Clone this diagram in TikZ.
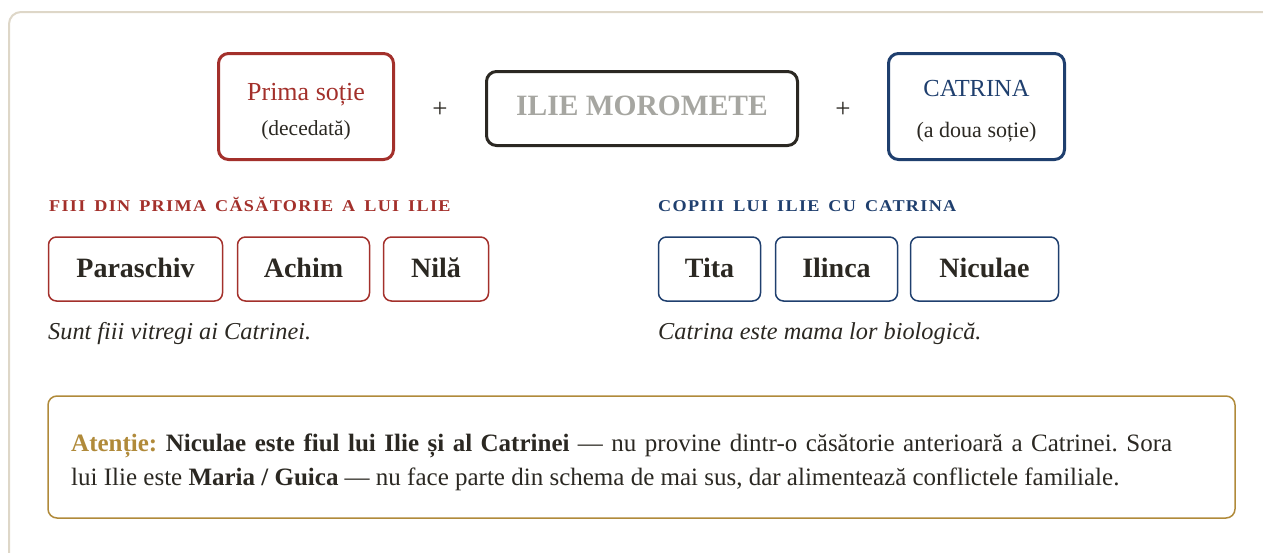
\documentclass[tikz,border=0pt]{standalone}
\usepackage{fontspec}
\setmainfont{Liberation Serif}
\newfontfamily\hdrfont{Liberation Serif}[LetterSpace=8, FakeStretch=1.1]
\definecolor{rd}{HTML}{A3302B}
\definecolor{bl}{HTML}{1F3F6E}
\definecolor{gd}{HTML}{B08A3A}
\definecolor{tx}{HTML}{2B2822}
\definecolor{gy}{HTML}{A6A6A1}
\definecolor{fr}{HTML}{DED7C8}
\newcommand\wsp{\hspace{9pt}}
\frenchspacing
\begin{document}
\begin{tikzpicture}[x=1pt,y=-1pt,
  bigbox/.style={draw, line width=3pt, rounded corners=10pt, inner sep=0pt},
  kidbox/.style={draw, line width=1.5pt, rounded corners=8pt, inner sep=0pt, minimum height=64pt},
  lbl/.style={inner sep=0pt, anchor=base, text=tx},
  hdr/.style={inner sep=0pt, anchor=base west, font=\hdrfont\fontsize{16.5}{19}\selectfont\bfseries},
  kid/.style={inner sep=0pt, anchor=base, text=tx, font=\fontsize{28}{32}\selectfont\bfseries},
  note/.style={inner sep=0pt, anchor=base west, text=tx, font=\fontsize{24.3}{28}\selectfont\itshape},
  body/.style={inner sep=0pt, anchor=base west, text=tx, font=\fontsize{25}{29}\selectfont\frenchspacing}]
\useasboundingbox (0,0) rectangle (1263,552);
% outer frame
\begin{scope}
\clip (0,0) rectangle (1263,552);
\draw[fr, line width=2pt, rounded corners=12pt] (9,12) rectangle (1300,600);
\end{scope}
% top row
\node[bigbox, draw=rd, minimum width=175pt, minimum height=106pt] (prima) at (306,106.5) {};
\node[lbl, text=rd, font=\fontsize{26}{30}\selectfont] (primaT) at (306,100) {Prima soție};
\node[lbl, font=\fontsize{21.5}{26}\selectfont] (primaS) at (306,135.5) {(decedată)};
\node[lbl, font=\fontsize{27}{30}\selectfont] (plus1) at (440,117) {+};
\node[bigbox, draw=tx, minimum width=311pt, minimum height=74pt] (ilie) at (642,108.5) {};
\node[lbl, text=gy, font=\fontsize{29.5}{33}\selectfont\bfseries] (ilieT) at (642,115) {ILIE MOROMETE};
\node[lbl, font=\fontsize{27}{30}\selectfont] (plus2) at (843,117) {+};
\node[bigbox, draw=bl, minimum width=176pt, minimum height=106pt] (cat) at (976.5,106.5) {};
\node[lbl, text=bl, font=\fontsize{24.5}{28}\selectfont] (catT) at (976.5,96) {CATRINA};
\node[lbl, font=\fontsize{22}{26}\selectfont] (catS) at (976.5,137) {(a doua soție)};
% headers
\node[hdr, text=rd] (h1) at (49,211) {FIII\wsp DIN\wsp PRIMA\wsp CĂSĂTORIE\wsp A\wsp LUI\wsp ILIE};
\node[hdr, text=bl] (h2) at (658,211) {COPIII\wsp LUI\wsp ILIE\wsp CU\wsp CATRINA};
% kids
\node[kidbox, draw=rd, minimum width=174pt] (k1) at (135.5,269) {};
\node[kidbox, draw=rd, minimum width=132pt] (k2) at (303.5,269) {};
\node[kidbox, draw=rd, minimum width=105pt] (k3) at (436,269) {};
\node[kid] (k1t) at (135.5,277.5) {Paraschiv};
\node[kid] (k2t) at (303.5,277.5) {Achim};
\node[kid] (k3t) at (436,277.5) {Nilă};
\node[kidbox, draw=bl, minimum width=102pt] (k4) at (709.5,269) {};
\node[kidbox, draw=bl, minimum width=122pt] (k5) at (836.5,269) {};
\node[kidbox, draw=bl, minimum width=148pt] (k6) at (984.5,269) {};
\node[kid] (k4t) at (709.5,277.5) {Tita};
\node[kid] (k5t) at (836.5,277.5) {Ilinca};
\node[kid] (k6t) at (984.5,277.5) {Niculae};
% notes
\node[note] (n1) at (48,339) {Sunt fiii vitregi ai Catrinei.};
\node[note] (n2) at (658,339) {Catrina este mama lor biologică.};
% attention box
\draw[gd, line width=1.5pt, rounded corners=9pt] (48,396) rectangle (1235,518);
\node[body] (a1) at (71,451.5) {\makebox[1101pt][s]{{\color{gd}\bfseries Atenție:} {\bfseries Niculae este fiul lui Ilie și al Catrinei} — nu provine dintr-o căsătorie anterioară a Catrinei. Sora}};
\node[body] (a2) at (71,485) {lui Ilie este {\bfseries Maria / Guica} — nu face parte din schema de mai sus, dar alimentează conflictele familiale.};
\end{tikzpicture}
\end{document}
